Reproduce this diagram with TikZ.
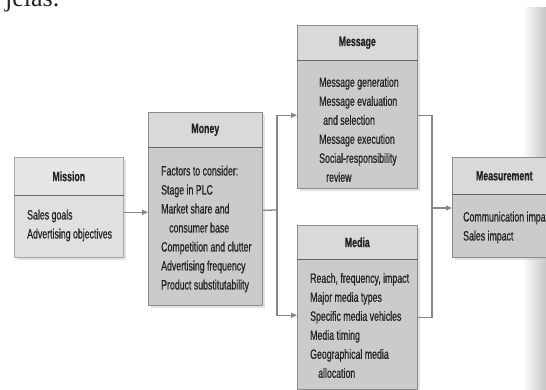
\documentclass[tikz,border=0pt]{standalone}
\usepackage{fontspec}
\setmainfont{Liberation Sans}[FakeStretch=0.65, FakeBold=0.6]
\newfontfamily\jelfont{Liberation Serif}
\usetikzlibrary{arrows.meta,shadows,calc}
\definecolor{boxbody}{RGB}{203,203,203}
\definecolor{boxhead}{RGB}{217,217,217}
\definecolor{lightbody}{RGB}{224,224,224}
\definecolor{lighthead}{RGB}{229,229,229}
\definecolor{boxedge}{RGB}{140,140,140}
\definecolor{conn}{RGB}{135,135,135}
\definecolor{ink}{RGB}{35,35,35}
\begin{document}
\begin{tikzpicture}[x=1pt,y=-1pt,
  panel/.style={draw=boxedge, line width=0.6pt, fill=boxbody, anchor=north west, inner sep=0pt,
    drop shadow={shadow xshift=3pt, shadow yshift=-3pt, fill=black!22, opacity=0.5}},
  headbar/.style={draw=boxedge, line width=0.6pt, fill=boxhead, anchor=north west, inner sep=0pt,
    text=ink, font=\bfseries\fontsize{13.5}{16}\selectfont},
  divider/.style={draw=black!60, line width=0.9pt},
  bodytxt/.style={anchor=west, align=left, inner sep=0pt, text=ink, font=\fontsize{13.5}{19}\selectfont},
  conline/.style={draw=conn, line width=1.3pt},
  conarrow/.style={conline, -{Triangle[length=6pt,width=5pt]}}
]
\path[use as bounding box] (0,0) rectangle (546,390);
\fill[white] (0,0) rectangle (546,390);
\shade[left color=white, right color=black!22] (522,8) rectangle (546,390);
\node[anchor=base west, inner sep=0pt, text=ink, font=\jelfont\fontsize{26}{26}\selectfont] (jelas) at (5,7) {jelas.};

% Mission
\node[panel, fill=lightbody, draw=black!35, minimum width=109pt, minimum height=100pt] (mission) at (14,157) {};
\node[headbar, fill=lighthead, draw=black!35, minimum width=109pt, minimum height=38pt] (missionhead) at (14,157) {Mission};
\draw[divider] (missionhead.south west) -- (missionhead.south east);
\node[bodytxt] (missiontext) at (27,225.5) {Sales goals\\Advertising objectives};

% Money
\node[panel, minimum width=114pt, minimum height=193pt] (money) at (148,112) {};
\node[headbar, minimum width=114pt, minimum height=35pt] (moneyhead) at (148,112) {Money};
\draw[divider] (moneyhead.south west) -- (moneyhead.south east);
\node[bodytxt] (moneytext) at (161,229) {Factors to consider:\\Stage in PLC\\Market share and\\\hspace*{8pt}consumer base\\Competition and clutter\\Advertising frequency\\Product substitutability};

% Message
\node[panel, minimum width=120pt, minimum height=163pt] (message) at (297,25) {};
\node[headbar, minimum width=120pt, minimum height=35pt] (messagehead) at (297,25) {Message};
\draw[divider] (messagehead.south west) -- (messagehead.south east);
\node[bodytxt] (messagetext) at (319,129.5) {Message generation\\Message evaluation\\\hspace*{4pt}and selection\\Message execution\\Social-responsibility\\\hspace*{7pt}review};

% Media
\node[panel, minimum width=120pt, minimum height=164pt] (media) at (297,225) {};
\node[headbar, minimum width=120pt, minimum height=34pt] (mediahead) at (297,225) {Media};
\draw[divider] (mediahead.south west) -- (mediahead.south east);
\node[bodytxt] (mediatext) at (310,325.5) {Reach, frequency, impact\\Major media types\\Specific media vehicles\\Media timing\\Geographical media\\\hspace*{8pt}allocation};

% Measurement
\node[panel, minimum width=104pt, minimum height=100pt] (measure) at (452,157) {};
\node[headbar, minimum width=104pt, minimum height=37pt] (measurehead) at (452,157) {Measurement};
\draw[divider] (measurehead.south west) -- (measurehead.south east);
\node[bodytxt] (measuretext) at (463,227.5) {Communication impact\\Sales impact};

% connectors
\coordinate (split) at (277,210);
\coordinate (join) at (432,208);
\draw[conarrow] ([yshift=-5pt]mission.east) -- ([yshift=-5pt]mission.east -| money.west);
\draw[conline] ([yshift=-1.5pt]money.east) -- (split);
\draw[conarrow] (split) |- ([yshift=-8.5pt]message.west);
\draw[conarrow] (split) |- ([yshift=-8pt]media.west);
\draw[conline] ([yshift=-8.5pt]message.east) -| (join);
\draw[conline] ([yshift=-10pt]media.east) -| (join);
\draw[conarrow] (join) -- (join -| measure.west);
\end{tikzpicture}
\end{document}
